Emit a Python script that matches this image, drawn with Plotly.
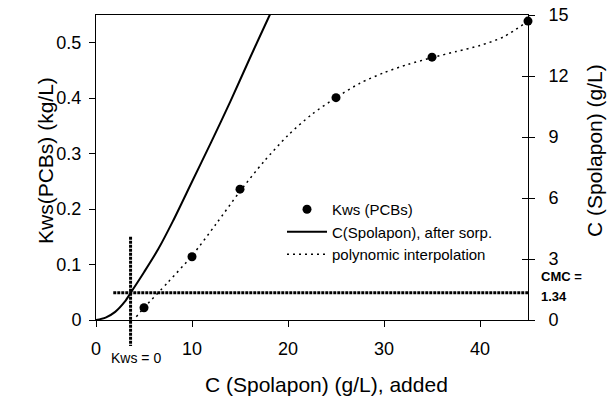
import plotly.graph_objects as go

# ---- data ----
kws_x = [5, 10, 15, 25, 35, 45]
kws_y = [0.022, 0.114, 0.236, 0.401, 0.474, 0.539]

poly_x = [4.2, 5, 7.5, 10, 12.5, 15, 17.5, 20, 22.5, 25, 27.5, 30, 32.5, 35, 37.5, 40, 42.5, 45]
poly_y = [0.006, 0.022, 0.068, 0.116, 0.173, 0.232, 0.286, 0.333, 0.371, 0.401, 0.427, 0.446,
          0.461, 0.473, 0.484, 0.495, 0.511, 0.539]

sorp_x = [0, 1, 2, 3, 3.7, 5, 6.5, 8, 10, 12, 14, 16, 18, 19]
sorp_y = [0, 0.12, 0.4, 0.9, 1.4, 2.35, 3.5, 4.85, 6.8, 8.75, 10.75, 12.85, 14.9, 15.9]

CMC = 1.34
KWS0_X = 3.6
VLINE_TOP = 0.15   # kg/L
HLINE_START = 1.8

x_range = [0, 45]
yl_range = [0, 0.55]
yr_range = [0, 15]
x_ticks = [0, 10, 20, 30, 40]
yl_ticks = [0, 0.1, 0.2, 0.3, 0.4, 0.5]
yr_ticks = [0, 3, 6, 9, 12, 15]

FONT = "Liberation Sans, Arial, sans-serif"
W, H = 615, 397
ML, MR, MT, MB = 96, 87, 15, 77
PW, PH = W - ML - MR, H - MT - MB

def px_x(p):  # pixel -> paper x
    return (p - ML) / PW

def px_y(p):  # pixel -> paper y
    return (H - MB - p) / PH

fig = go.Figure()

fig.add_trace(go.Scatter(x=kws_x, y=kws_y, mode="markers", name="Kws (PCBs)",
                         marker=dict(color="black", size=9), cliponaxis=False))
fig.add_trace(go.Scatter(x=sorp_x, y=sorp_y, mode="lines", name="C(Spolapon), after sorp.",
                         yaxis="y2", line=dict(color="black", width=2, shape="spline", smoothing=0.8)))
fig.add_trace(go.Scatter(x=poly_x, y=poly_y, mode="lines", name="polynomic interpolation",
                         line=dict(color="black", width=1.5, dash="2px,4px", shape="spline", smoothing=0.8)))
fig.add_trace(go.Scatter(x=[None], y=[None], yaxis="y3", showlegend=False, hoverinfo="skip"))

# reference lines
fig.add_shape(type="line", xref="x", yref="y2", x0=HLINE_START, x1=x_range[1], y0=CMC, y1=CMC,
              line=dict(color="black", width=3, dash="3px,1px"))
fig.add_shape(type="line", xref="paper", yref="paper",
              x0=KWS0_X / x_range[1], x1=KWS0_X / x_range[1],
              y0=VLINE_TOP / yl_range[1], y1=px_y(346),
              line=dict(color="black", width=3, dash="3px,1px"))

axis_common = dict(showgrid=False, zeroline=False, linecolor="black", linewidth=1,
                   tickcolor="black", ticklen=6, tickwidth=1, automargin=False,
                   tickfont=dict(family=FONT, size=18, color="black"))

fig.update_layout(
    width=W, height=H, margin=dict(l=ML, r=MR, t=MT, b=MB, autoexpand=False),
    plot_bgcolor="white", paper_bgcolor="white",
    font=dict(family=FONT, color="black"),
    xaxis=dict(range=x_range, tickvals=x_ticks, ticks="outside", showline=True, mirror=True,
               ticklabelstandoff=6, **axis_common),
    yaxis=dict(range=yl_range, tickvals=yl_ticks, ticks="outside", showline=True,
               ticklabelstandoff=4, **axis_common),
    yaxis2=dict(range=yr_range, tickvals=yr_ticks, ticks="outside", showline=True,
                overlaying="y", side="right", ticklabelstandoff=10, **axis_common),
    yaxis3=dict(range=yr_range, tickvals=yr_ticks, ticks="inside", showline=False,
                overlaying="y", side="right", showticklabels=False, automargin=False,
                showgrid=False, zeroline=False, tickcolor="black", ticklen=6),
    legend=dict(x=px_x(282), y=px_y(193), xanchor="left", yanchor="top",
                bgcolor="rgba(0,0,0,0)", itemwidth=40,
                font=dict(family=FONT, size=15, color="black")),
    showlegend=True,
)

ann = [
    dict(text="Kws(PCBs) (kg/L)", x=px_x(45), y=px_y(161), textangle=-90, size=21),
    dict(text="C (Spolapon) (g/L)", x=px_x(594), y=px_y(151), textangle=-90, size=21),
    dict(text="C (Spolapon) (g/L), added", x=px_x(326), y=px_y(384), textangle=0, size=21),
    dict(text="Kws = 0", x=px_x(136), y=px_y(358), textangle=0, size=14),
]
for a in ann:
    fig.add_annotation(text=a["text"], x=a["x"], y=a["y"], xref="paper", yref="paper",
                       xanchor="center", yanchor="middle", textangle=a["textangle"],
                       showarrow=False, font=dict(family=FONT, size=a["size"], color="black"))

fig.add_annotation(text="<b>CMC =</b>", x=px_x(539), y=px_y(276), xref="paper", yref="paper",
                   xanchor="left", yanchor="middle", showarrow=False,
                   font=dict(family=FONT, size=13, color="black"))
fig.add_annotation(text="<b>1.34</b>", x=px_x(539), y=px_y(296), xref="paper", yref="paper",
                   xanchor="left", yanchor="middle", showarrow=False,
                   font=dict(family=FONT, size=13, color="black"))

fig.write_html("out.html", config={"displayModeBar": False},
               post_script="document.body.style.margin='0';")
